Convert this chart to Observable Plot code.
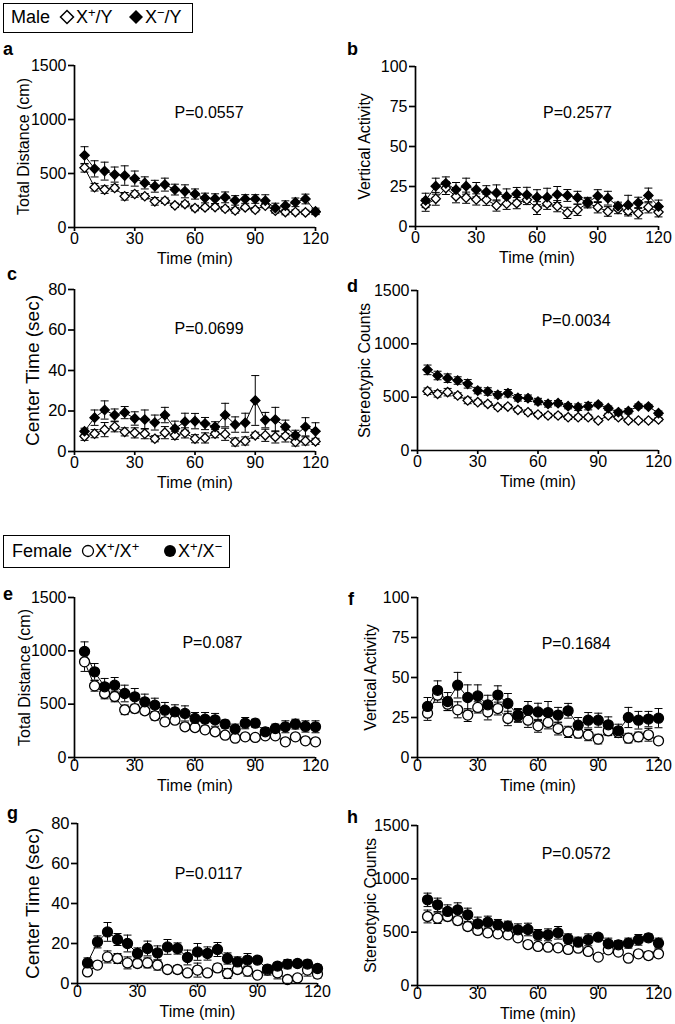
<!DOCTYPE html>
<html><head><meta charset="utf-8">
<script src="https://cdn.jsdelivr.net/npm/d3@7"></script>
<script src="https://cdn.jsdelivr.net/npm/@observablehq/plot@0.6"></script>
<style>
body{margin:0;background:#fff;}
#root{position:relative;width:675px;height:1024px;font-family:'Liberation Sans',Arial,Helvetica,sans-serif;color:#000;overflow:hidden;background:#fff}
#root > svg{position:absolute}
.lg{position:absolute;border:1.5px solid #000;box-sizing:border-box;font-size:18px;background:#fff}
.lg span{position:absolute;top:0;white-space:nowrap}
.lg svg{position:absolute}
.lg sup{font-size:13px;vertical-align:6px;line-height:0}
.let{position:absolute;font-weight:bold;font-size:18px;line-height:18px}
</style></head><body><div id="root"></div>
<script>
// ---------- data ----------
const times = [5,10,15,20,25,30,35,40,45,50,55,60,65,70,75,80,85,90,95,100,105,110,115,120];
const xTicks = [0,30,60,90,120];
const distTicks = [0,500,1000,1500];
const vertTicks = [0,25,50,75,100];
const centerTicks = [0,20,40,60,80];
const stereoTicks = [0,500,1000,1500];

// a: male total distance
const aOpen = [553,373,351,366,289,310,289,242,248,205,217,180,186,189,174,158,186,165,202,155,143,143,140,143];
const aOpenErr = [40,35,35,30,35,30,25,35,25,20,25,25,20,20,20,25,20,20,20,20,25,20,20,20];
const aFilled = [668,543,522,490,481,453,413,382,397,351,335,310,273,267,279,251,264,264,248,180,202,233,264,149];
const aFilledErr = [80,75,83,70,90,70,56,55,60,50,60,47,45,45,50,44,40,40,55,45,45,40,45,30];
// b: male vertical activity
const bOpen = [13.5,17.3,24,18.8,18,16.9,16.7,13.1,14.2,14.6,16.7,11.5,14.2,12.7,8.5,10.4,14.6,12,9.4,11,9.6,8.3,12,9];
const bOpenErr = [4,4,4,4,3.5,3.5,3.5,3.5,3.5,3.5,3,4,3.5,3.5,3.5,3.5,3,3.5,3,3,3,3.5,3.5,3];
const bFilled = [16.3,25.2,27,23,25.2,23,21.5,21,18.8,20.4,19.8,18.3,18.3,20,19.4,18,15.2,19,17.7,12.7,13.5,14.8,19.4,12.5];
const bFilledErr = [4.5,5,4,4.5,5,4.5,4,5,4.7,4,4.7,4.7,5.6,5,3.7,4,3,4,4.3,2.5,6,3.5,4.6,4];
// c: male center time
const cOpen = [7.5,8.8,10.8,12.2,9.7,9.2,8.8,6.3,9.3,8,9.2,6.3,6.7,8.8,8.5,4.7,5.2,8,8,7.2,7.7,4.7,5.2,5];
const cOpenErr = [2,2,3.5,2.5,2,2.5,2.5,1.5,3,2,2.5,2,2.5,2,3,2,2,1.5,3,3,3,2,2,1.5];
const cFilled = [10,16.7,20.5,18,19.2,16.3,15.8,14.3,18,11.3,14.7,15,13.8,12.2,18,13.3,14.2,25.2,15.5,15.8,12.2,8,12.2,10];
const cFilledErr = [1.5,3.8,4.5,3,3,3.3,4.7,3.7,3.8,3.7,4.2,3.8,3,2.5,5.8,3.8,4.7,12.3,3.8,6,3.3,2.5,4.5,4.2];
// d: male stereotypic counts
const dOpen = [556,531,547,516,469,453,437,406,412,381,359,337,328,328,312,312,312,281,328,312,281,281,281,291];
const dOpenErr = [30,30,35,25,30,20,20,20,20,20,20,20,20,20,20,20,20,15,20,20,15,15,15,15];
const dFilled = [756,703,678,656,625,562,553,522,537,494,490,459,437,444,416,406,416,431,397,359,369,416,412,350];
const dFilledErr = [45,40,40,35,40,30,35,30,35,30,30,30,30,25,25,30,35,20,20,20,25,20,20,20];
// e: female total distance
const eOpen = [897,672,600,572,447,459,438,391,334,350,288,281,259,241,209,181,194,188,203,203,147,194,156,147];
const eOpenErr = [90,50,50,50,45,40,35,40,35,30,35,30,30,30,25,20,20,20,25,25,20,25,25,20];
const eFilled = [994,803,663,678,600,569,522,491,444,428,413,366,359,353,313,266,322,322,241,272,288,313,291,288];
const eFilledErr = [90,78,78,72,78,78,72,65,72,66,71,56,63,60,37,47,53,37,40,41,56,46,53,56];
// f: female vertical activity
const fOpen = [27.7,39,33.3,29.8,26.5,31.3,28.5,30.6,24.4,26,23.3,19.8,21.9,18.1,16,15.2,14,11.5,16.7,15.6,12.1,12.9,14.2,10.4];
const fOpenErr = [4.5,4.5,4,5,4,3.5,5,4,4.5,4,4.5,4,4,4,3.5,3,3.5,3,3,3,3,3,4,2];
const fFilled = [31.9,42,35,45.2,37.5,38.5,32.9,39,33.8,26.5,29.6,28.5,28.1,26.5,29.2,20.2,23.3,23.3,20.4,16.7,25,23.3,24,24.6];
const fFilledErr = [5.6,5.9,5.6,8,7.9,6.9,6,5.8,6.2,4.1,5.4,5.4,6.9,4.8,4.6,4.8,4.8,4.4,5,4.1,6.3,5.5,4.8,6];
// g: female center time
const gOpen = [5.8,9.2,13.3,12.5,10.3,10,10.3,9.2,7,7,5.3,6.7,5.3,7.8,5,7,6.2,4.2,6.7,5.3,2,2.8,6.7,4.7];
const gOpenErr = [1.5,1.5,3,2.5,3,2,2.5,2.5,1.5,2,1.5,3.5,1.5,2,2.5,2,2.5,1.5,2.5,3,1.5,1.5,3,2];
const gFilled = [10.3,20.8,25.8,22,20,15,17.5,15.3,18.3,17.5,13,15.8,15,17,12.5,10.8,11.7,11.7,7.2,8.7,9.7,10,9.7,7.5];
const gFilledErr = [2.5,3,4.7,3,4.2,2.8,3.7,3.5,3.7,2.8,3.7,4.2,3.3,3.5,2.8,2.5,3.3,1.6,1.2,1.7,2.3,1.7,2,2];
// h: female stereotypic counts
const hOpen = [647,631,647,609,553,516,494,484,475,447,384,366,359,353,338,350,319,266,334,313,256,297,281,297];
const hOpenErr = [60,50,40,40,35,30,35,30,30,25,30,30,30,30,35,30,30,20,20,20,20,25,35,35];
const hFilled = [803,756,694,709,663,578,594,569,556,522,525,475,475,494,438,406,428,453,391,381,397,428,447,397];
const hFilledErr = [63,63,62,66,62,63,56,50,47,56,59,50,56,59,46,47,56,31,53,41,47,50,37,47];

const pValues = ["P=0.0557","P=0.2577","P=0.0699","P=0.0034","P=0.087","P=0.1684","P=0.0117","P=0.0572"];
const yLabels = ["Total Distance (cm)","Vertical Activity","Center Time (sec)","Stereotypic Counts"];
const letters = ["a","b","c","d","e","f","g","h"];

// ---------- drawing ----------
const FONT = "'Liberation Sans', Arial, Helvetica, sans-serif";
const root = document.getElementById("root");
const cap = {draw(ctx, size) { const r = Math.sqrt(size / Math.PI); ctx.moveTo(-r, 0); ctx.lineTo(r, 0); }};

function rows(vals, errs) { return times.map((t, i) => ({t, v: vals[i], e: errs[i]})); }

function panel(c) {
  const o = rows(c.open, c.openErr), f = rows(c.filled, c.filledErr);
  const err = (d) => [
    Plot.ruleX(d, {x: "t", y1: r => r.v - r.e, y2: r => r.v + r.e, stroke: "black", strokeWidth: 1}),
    Plot.dot(d, {x: "t", y: r => r.v + r.e, symbol: cap, r: 4, stroke: "black", strokeWidth: 1}),
    Plot.dot(d, {x: "t", y: r => r.v - r.e, symbol: cap, r: 4, stroke: "black", strokeWidth: 1})
  ];
  const mt = 20, mb = 50;
  const svg = Plot.plot({
    width: c.w, height: mt + c.h + mb,
    marginTop: mt, marginBottom: mb, marginLeft: c.ml, marginRight: c.mr,
    style: {fontFamily: FONT, color: "black", background: "transparent", overflow: "visible"},
    x: {domain: [0, 120]},
    y: {domain: [0, c.yticks[c.yticks.length - 1]]},
    marks: [
      ...err(o), ...err(f),
      Plot.line(o, {x: "t", y: "v", stroke: "black", strokeWidth: 1}),
      Plot.line(f, {x: "t", y: "v", stroke: "black", strokeWidth: 1}),
      Plot.dot(o, {x: "t", y: "v", symbol: c.sym, r: c.r, fill: "white", stroke: "black", strokeWidth: 1.3}),
      Plot.dot(f, {x: "t", y: "v", symbol: c.sym, r: c.r, fill: "black", stroke: "black", strokeWidth: 1.3}),
      Plot.ruleX([0], {stroke: "black", strokeWidth: 1.7}),
      Plot.ruleY([0], {stroke: "black", strokeWidth: 1.7}),
      Plot.axisX({ticks: xTicks, tickSize: 4, tickPadding: c.xpad, fontSize: 16, tickFormat: d => `${d}`, label: null, strokeWidth: 1.7}),
      Plot.axisY({ticks: c.yticks, tickSize: 6, tickPadding: 2, fontSize: c.tfs, tickFormat: d => `${d}`, label: null, strokeWidth: 1.7}),
      Plot.text([c.ylabel], {frameAnchor: "left", textAnchor: "middle", lineAnchor: "middle", dx: c.ldx, rotate: -90, fontSize: c.lfs}),
      Plot.text(["Time (min)"], {frameAnchor: "bottom", lineAnchor: "middle", dy: c.tdy, fontSize: 16}),
      Plot.text([c.p], {x: c.px, y: c.py, fontSize: 16})
    ]
  });
  svg.style.left = c.left + "px";
  svg.style.top = (c.top - mt) + "px";
  root.appendChild(svg);
  const L = document.createElement("div");
  L.className = "let"; L.textContent = c.letter;
  L.style.left = c.lx + "px"; L.style.top = c.ly + "px";
  root.appendChild(L);
}

const male = {sym: "diamond2", r: 4.2};
const female = {sym: "circle", r: 5};
const panels = [
  {...male, open: aOpen, openErr: aOpenErr, filled: aFilled, filledErr: aFilledErr, yticks: distTicks, ylabel: yLabels[0], p: pValues[0], letter: letters[0],
   left: 0, top: 65, h: 162, w: 330, ml: 74, mr: 15, xpad: 1, tdy: 31, ldx: -51, lfs: 16, tfs: 16, px: 67, py: 1062, lx: 3, ly: 40},
  {...male, open: bOpen, openErr: bOpenErr, filled: bFilled, filledErr: bFilledErr, yticks: vertTicks, ylabel: yLabels[1], p: pValues[1], letter: letters[1],
   left: 337, top: 66, h: 160, w: 337, ml: 78, mr: 16, xpad: 1, tdy: 31, ldx: -51, lfs: 16, tfs: 16, px: 80, py: 71, lx: 347, ly: 40},
  {...male, open: cOpen, openErr: cOpenErr, filled: cFilled, filledErr: cFilledErr, yticks: centerTicks, ylabel: yLabels[2], p: pValues[2], letter: letters[2],
   left: 0, top: 289, h: 162, w: 330, ml: 74, mr: 15, xpad: 1, tdy: 31, ldx: -42, lfs: 19, tfs: 16.5, px: 67, py: 60.5, lx: 7, ly: 265},
  {...male, open: dOpen, openErr: dOpenErr, filled: dFilled, filledErr: dFilledErr, yticks: stereoTicks, ylabel: yLabels[3], p: pValues[3], letter: letters[3],
   left: 337, top: 290, h: 160, w: 337, ml: 80, mr: 16, xpad: 1, tdy: 31, ldx: -53, lfs: 16, tfs: 16, px: 79, py: 1219, lx: 347, ly: 277},
  {...female, open: eOpen, openErr: eOpenErr, filled: eFilled, filledErr: eFilledErr, yticks: distTicks, ylabel: yLabels[0], p: pValues[4], letter: letters[4],
   left: 0, top: 597, h: 160, w: 330, ml: 74, mr: 15, xpad: -2, tdy: 28, ldx: -50, lfs: 16, tfs: 16, px: 68.7, py: 1078, lx: 3, ly: 585},
  {...female, open: fOpen, openErr: fOpenErr, filled: fFilled, filledErr: fFilledErr, yticks: vertTicks, ylabel: yLabels[1], p: pValues[5], letter: letters[5],
   left: 337, top: 597, h: 160, w: 337, ml: 80, mr: 16, xpad: -2, tdy: 28, ldx: -47, lfs: 16, tfs: 16, px: 79, py: 71, lx: 348, ly: 590},
  {...female, open: gOpen, openErr: gOpenErr, filled: gFilled, filledErr: gFilledErr, yticks: centerTicks, ylabel: yLabels[2], p: pValues[6], letter: letters[6],
   left: 0, top: 823, h: 160, w: 332, ml: 77, mr: 15, xpad: -2, tdy: 28, ldx: -45, lfs: 19, tfs: 16.5, px: 65.5, py: 55, lx: 7, ly: 804},
  {...female, open: hOpen, openErr: hOpenErr, filled: hFilled, filledErr: hFilledErr, yticks: stereoTicks, ylabel: yLabels[3], p: pValues[7], letter: letters[7],
   left: 337, top: 825, h: 160, w: 337, ml: 80, mr: 16, xpad: -2, tdy: 28, ldx: -47, lfs: 16, tfs: 16, px: 79, py: 1237, lx: 347, ly: 808}
];
panels.forEach(panel);

// ---------- legends ----------
const maleLegend = document.createElement("div");
maleLegend.className = "lg";
Object.assign(maleLegend.style, {left: "3px", top: "3px", width: "190px", height: "30px"});
maleLegend.innerHTML =
  '<span style="left:7px;line-height:27px">Male</span>' +
  '<svg width="16" height="16" style="left:55px;top:5px"><path d="M8,1.5 L14.5,8 L8,14.5 L1.5,8Z" fill="#fff" stroke="#000" stroke-width="1.5"/></svg>' +
  '<span style="left:72px;line-height:27px">X<sup>+</sup>/Y</span>' +
  '<svg width="16" height="16" style="left:124px;top:5px"><path d="M8,1 L15,8 L8,15 L1,8Z" fill="#000"/></svg>' +
  '<span style="left:141px;line-height:27px">X<sup>\u2212</sup>/Y</span>';
root.appendChild(maleLegend);

const femaleLegend = document.createElement("div");
femaleLegend.className = "lg";
Object.assign(femaleLegend.style, {left: "3px", top: "535px", width: "227px", height: "33px"});
femaleLegend.innerHTML =
  '<span style="left:8px;line-height:30px">Female</span>' +
  '<svg width="14" height="14" style="left:77px;top:8px"><circle cx="7" cy="7" r="5.5" fill="#fff" stroke="#000" stroke-width="1.3"/></svg>' +
  '<span style="left:91px;line-height:30px">X<sup>+</sup>/X<sup>+</sup></span>' +
  '<svg width="14" height="14" style="left:159px;top:8px"><circle cx="7" cy="7" r="6" fill="#000"/></svg>' +
  '<span style="left:174px;line-height:30px">X<sup>+</sup>/X<sup>\u2212</sup></span>';
root.appendChild(femaleLegend);
</script></body></html>
